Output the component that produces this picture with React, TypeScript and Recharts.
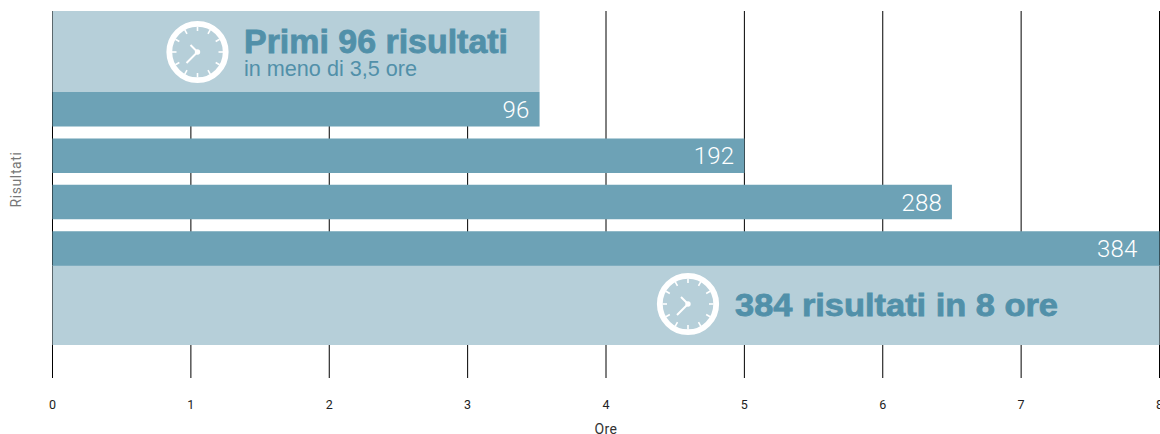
import React from "react";
import { ComposedChart, Bar, XAxis, YAxis, CartesianGrid, LabelList, ReferenceArea } from "recharts";

const risultati = ["96", "192", "288", "384"];
const ore = [3.52, 5, 6.5, 8];
const oreTicks = [0, 1, 2, 3, 4, 5, 6, 7, 8];
const righe = [0, 1, 2, 3];
const data = risultati.map((r, i) => ({ risultati: r, ore: ore[i], riga: righe[i] }));

const DARK = "#6DA2B6";
const LIGHT = "#B6CFD9";
const INK = "#5190A9";
const FONT = "Roboto, sans-serif";
const NOTE_FONT = "'Liberation Sans', sans-serif";

function Clock({ cx, cy }: { cx: number; cy: number }) {
  const marks = Array.from({ length: 12 }, (_, i) => (i * Math.PI) / 6);
  return (
    <g>
      <circle cx={cx} cy={cy} r={28.2} fill="none" stroke="#fff" strokeWidth={5.8} />
      {marks.map((a, i) => (
        <line key={i} x1={cx + 21 * Math.sin(a)} y1={cy - 21 * Math.cos(a)} x2={cx + 25.5 * Math.sin(a)} y2={cy - 25.5 * Math.cos(a)} stroke="#fff" strokeWidth={1.6} />
      ))}
      <line x1={cx} y1={cy} x2={cx - 7} y2={cy - 7} stroke="#fff" strokeWidth={2} />
      <line x1={cx} y1={cy} x2={cx - 11} y2={cy + 11} stroke="#fff" strokeWidth={2} />
      <circle cx={cx} cy={cy} r={2.7} fill="#fff" />
    </g>
  );
}

const TopNote = (p: any) => {
  const { x, y } = p.viewBox;
  return (
    <g fontFamily={NOTE_FONT} fill={INK}>
      <Clock cx={x + 145} cy={y + 41} />
      <text x={x + 191.5} y={y + 41.5} fontSize={33} fontWeight={700} stroke={INK} strokeWidth={0.8} textLength={264} lengthAdjust="spacingAndGlyphs">Primi 96 risultati</text>
      <text x={x + 191.5} y={y + 65} fontSize={22} textLength={173} lengthAdjust="spacingAndGlyphs">in meno di 3,5 ore</text>
    </g>
  );
};

const BottomNote = (p: any) => {
  const { x, y } = p.viewBox;
  return (
    <g fontFamily={NOTE_FONT} fill={INK}>
      <Clock cx={x + 635.5} cy={y + 39} />
      <text x={x + 682.5} y={y + 51} fontSize={31} fontWeight={700} stroke={INK} strokeWidth={0.8} textLength={323} lengthAdjust="spacingAndGlyphs">384 risultati in 8 ore</text>
    </g>
  );
};

const BarValue = (p: any) => {
  const { x, y, width, height, value } = p;
  const inset = value === risultati[risultati.length - 1] ? 22 : 10;
  return (
    <text x={x + width - inset} y={y + height / 2 + 8.5} textAnchor="end" fill="#fff" fontFamily={FONT} fontWeight={300} fontSize={24} letterSpacing={0.2}>
      {value}
    </text>
  );
};

export default function App() {
  return (
    <div style={{ position: "absolute", left: 0, top: 0, width: 1160, height: 434 }}>
      <ComposedChart
        width={1160}
        height={434}
        layout="vertical"
        data={data}
        margin={{ top: 11, right: 0.5, bottom: 0, left: 0 }}
      >
        <CartesianGrid horizontal={false} stroke="#000" strokeWidth={1} />
        <XAxis
          type="number"
          domain={[0, 8]}
          ticks={oreTicks}
          interval={0}
          height={56}
          axisLine={false}
          tickLine={false}
          tickMargin={16}
          tick={{ fill: "#222", fontSize: 12.5, fontFamily: FONT, fontWeight: 400 }}
          label={{ value: "Ore", position: "insideBottom", offset: 0, dy: 0, fill: "#333", fontSize: 14, letterSpacing: 0.4, fontFamily: FONT }}
        />
        <YAxis
          yAxisId="cat"
          type="category"
          dataKey="risultati"
          width={52.5}
          padding={{ top: 75, bottom: 106.5 }}
          axisLine={false}
          tickLine={false}
          tick={false}
          label={{ value: "Risultati", angle: -90, position: "insideLeft", offset: 16, dy: 13, fill: "#777", fontSize: 14, letterSpacing: 0.6, fontFamily: FONT }}
        />
        <YAxis yAxisId="rows" type="number" dataKey="riga" orientation="right" domain={[0, 367]} hide allowDataOverflow />
        <ReferenceArea yAxisId="rows" x1={0} x2={3.52} y1={0} y2={81} fill={LIGHT} fillOpacity={1} stroke="none" label={TopNote} />
        <ReferenceArea yAxisId="rows" x1={0} x2={8} y1={254} y2={334} fill={LIGHT} fillOpacity={1} stroke="none" label={BottomNote} />
        <Bar yAxisId="cat" dataKey="ore" barSize={34.5} fill={DARK} isAnimationActive={false}>
          <LabelList dataKey="risultati" content={BarValue} />
        </Bar>
      </ComposedChart>
    </div>
  );
}
